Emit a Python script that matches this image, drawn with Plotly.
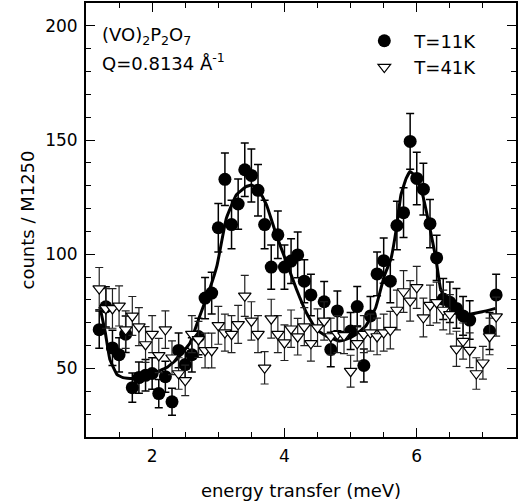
import plotly.graph_objects as go

# T = 11K (filled circles)
e11 = [1.2, 1.3, 1.4, 1.5, 1.6, 1.7, 1.8, 1.9, 2.0, 2.1, 2.2, 2.3, 2.4, 2.5, 2.6, 2.7,
       2.8, 2.9, 3.0, 3.1, 3.2, 3.3, 3.4, 3.5, 3.6, 3.7, 3.8, 3.9, 4.0, 4.1, 4.2, 4.3,
       4.4, 4.6, 4.7, 4.8, 5.0, 5.1, 5.2, 5.3, 5.4, 5.5, 5.6, 5.7, 5.8, 5.9, 6.0, 6.1,
       6.2, 6.3, 6.4, 6.5, 6.6, 6.7, 6.8, 7.1, 7.2]
c11 = [67, 77, 59, 56, 65, 41.6, 46, 47, 47.8, 39, 46.4, 35.4, 57.9, 51.7, 56, 64,
       80.8, 83, 111.6, 132.8, 113, 122, 137, 134.5, 128, 113, 94.4, 108.5, 94.4, 97, 99.7, 88.2,
       82.2, 79.2, 58.3, 75.2, 66.4, 77.1, 51.3, 73, 91.4, 97.2, 88.2, 112.6, 118.2, 149.4, 133.2, 128.5,
       113.4, 98.4, 80.4, 79, 76.3, 73, 71.2, 66.4, 82.2]
err11 = [8.2, 8.8, 7.7, 7.5, 8.0, 6.4, 6.8, 6.9, 6.9, 6.2, 6.8, 5.9, 7.6, 7.2, 7.5, 8.0,
         9.0, 9.1, 10.6, 11.5, 10.6, 11.0, 11.7, 11.6, 11.3, 10.6, 9.7, 10.4, 9.7, 9.8, 10.0, 9.4,
         9.1, 8.9, 7.6, 8.7, 8.1, 8.8, 7.2, 8.5, 9.6, 9.9, 9.4, 10.6, 10.9, 12.2, 11.5, 11.3,
         10.6, 9.9, 9.0, 8.9, 8.7, 8.5, 8.4, 8.1, 9.1]

# T = 41K (open down-triangles)
e41 = [1.2, 1.3, 1.4, 1.5, 1.6, 1.7, 1.8, 1.9, 2.0, 2.1, 2.2, 2.3, 2.4, 2.5, 2.6, 2.7,
       2.8, 2.9, 3.0, 3.1, 3.2, 3.3, 3.4, 3.5, 3.6, 3.7, 3.8, 3.9, 4.0, 4.1, 4.2, 4.3,
       4.4, 4.5, 4.6, 4.7, 4.8, 4.9, 5.0, 5.1, 5.2, 5.3, 5.4, 5.5, 5.6, 5.7, 5.8, 5.9,
       6.0, 6.1, 6.2, 6.3, 6.4, 6.5, 6.6, 6.7, 6.8, 6.9, 7.0, 7.1, 7.2]
c41 = [85, 76.3, 76.3, 77.4, 67, 73, 68.3, 60.5, 65, 55.7, 67, 54.7, 47.8, 44.8, 65, 62.7,
       57.9, 57.9, 68.9, 65.7, 65, 69.3, 81.8, 70.8, 65, 50.3, 71.8, 65, 61.3, 67.4, 63.9, 68.3,
       61, 67.9, 70.8, 64, 65, 64.5, 48.8, 61, 65, 65.7, 64, 65.7, 66.8, 75.6, 83.7, 79.6,
       85.5, 72.3, 77.7, 78.9, 75.6, 73.7, 58.6, 62, 58, 47.8, 52.5, 64, 72.7]
err41 = [9.2, 8.7, 8.7, 8.8, 8.2, 8.5, 8.3, 7.8, 8.1, 7.5, 8.2, 7.4, 6.9, 6.7, 8.1, 7.9,
         7.6, 7.6, 8.3, 8.1, 8.1, 8.3, 9.0, 8.4, 8.1, 7.1, 8.5, 8.1, 7.8, 8.2, 8.0, 8.3,
         7.8, 8.2, 8.4, 8.0, 8.1, 8.0, 7.0, 7.8, 8.1, 8.1, 8.0, 8.1, 8.2, 8.7, 9.1, 8.9,
         9.2, 8.5, 8.8, 8.9, 8.7, 8.6, 7.7, 7.9, 7.6, 6.9, 7.2, 8.0, 8.5]

# fitted curve (T = 11K)
fit_e = [1.21, 1.29, 1.36, 1.47, 1.56, 1.69, 1.81, 2.01, 2.22, 2.37, 2.57, 2.72, 2.87, 2.98,
         3.12, 3.27, 3.42, 3.50, 3.60, 3.73, 3.88, 4.03, 4.18, 4.33, 4.48, 4.63, 4.83, 4.93,
         5.08, 5.23, 5.38, 5.51, 5.61, 5.69, 5.76, 5.84, 5.90, 5.99, 6.09, 6.19, 6.29, 6.36,
         6.46, 6.59, 6.69, 6.79, 6.99, 7.19]
fit_c = [77, 66, 54, 47.3, 46, 45.6, 46.6, 47.8, 50.4, 54, 61, 73, 84.8, 95,
         115.6, 125.9, 129.6, 130.3, 128.8, 121.5, 108.2, 96.5, 84.8, 74.5, 67.1, 64.2, 62, 62.7,
         64.9, 68.6, 76.7, 90.6, 98, 111, 125.9, 133.2, 136.2, 134, 125.9, 112.6, 98, 84.8,
         78.9, 75.2, 74.5, 73.7, 74.8, 76.3]

x_ticks = [2, 4, 6]
y_ticks = [50, 100, 150, 200]

FONT = "DejaVu Sans"

fig = go.Figure()

fig.add_trace(go.Scatter(
    x=e11, y=c11, mode="markers", name="T=11K",
    marker=dict(symbol="circle", size=13, color="black"),
    error_y=dict(type="data", array=err11, visible=True, color="black", thickness=1.5, width=4),
))
fig.add_trace(go.Scatter(
    x=fit_e, y=fit_c, mode="lines", showlegend=False,
    line=dict(color="black", width=3, shape="spline", smoothing=0.3),
))
fig.add_trace(go.Scatter(
    x=e41, y=c41, mode="markers", name="T=41K",
    marker=dict(symbol="triangle-down", size=11, color="white", line=dict(color="black", width=1.2)),
    error_y=dict(type="data", array=err41, visible=True, color="#222", thickness=1.2, width=4),
))

fig.add_annotation(
    x=0.032, y=0.957, xref="paper", yref="paper", xanchor="left", yanchor="top",
    text="(VO)<sub>2</sub>P<sub>2</sub>O<sub>7</sub>",
    showarrow=False, align="left", font=dict(family=FONT, size=18, color="black"),
)
fig.add_annotation(
    x=0.032, y=0.896, xref="paper", yref="paper", xanchor="left", yanchor="top",
    text="Q=0.8134 Å<sup>-1</sup>",
    showarrow=False, align="left", font=dict(family=FONT, size=18, color="black"),
)

axis_common = dict(
    showline=True, linecolor="black", linewidth=2, mirror="ticks",
    ticks="inside", ticklen=9, tickwidth=1.3, tickcolor="black",
    showgrid=False, zeroline=False, automargin=False,
    tickfont=dict(family=FONT, size=17, color="black"),
)

fig.update_layout(
    width=518, height=503,
    margin=dict(l=86, r=2, t=3, b=66),
    paper_bgcolor="white", plot_bgcolor="white",
    font=dict(family=FONT, size=17, color="black"),
    xaxis=dict(range=[1, 7.5], tickvals=x_ticks, ticklabelstandoff=3,
               minor=dict(dtick=0.5, tick0=0, ticks="inside", ticklen=5, tickcolor="black", tickwidth=1),
               title=dict(text="energy transfer (meV)", font=dict(family=FONT, size=18), standoff=19),
               **axis_common),
    yaxis=dict(range=[20, 210], tickvals=y_ticks, ticklabelstandoff=3,
               minor=dict(dtick=10, tick0=0, ticks="inside", ticklen=5, tickcolor="black", tickwidth=1),
               title=dict(text="counts / M1250", font=dict(family=FONT, size=18), standoff=6),
               **axis_common),
    legend=dict(x=0.624, y=0.955, xanchor="left", yanchor="top",
                font=dict(family=FONT, size=18), itemwidth=50, bgcolor="rgba(0,0,0,0)",
                tracegroupgap=0),
    showlegend=True,
)

fig.write_html("out.html", config={"displayModeBar": False},
               post_script="document.body.style.margin='0';")
